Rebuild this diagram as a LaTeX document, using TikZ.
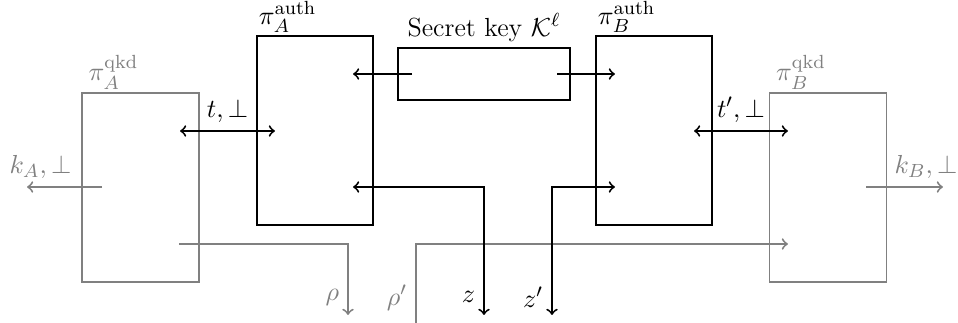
\documentclass[tikz,border=0pt]{standalone}
\usepackage{amsmath,amssymb}
\usepackage{tikz}
\usetikzlibrary{positioning}

\begin{document}
\begin{tikzpicture}[x=0.42pt, y=0.42pt,
every node/.style = {font=\fontsize{11}{13}\selectfont},
box/.style = {rectangle, thick, inner sep=0pt},
qkd/.style = {box, draw=gray, minimum width=117*0.42pt, minimum height=189*0.42pt},
auth/.style = {box, draw=black, minimum width=116*0.42pt, minimum height=189*0.42pt},
keybox/.style = {box, draw=black, minimum width=172*0.42pt, minimum height=52*0.42pt},
linkBlack/.style = {thick, draw=black},
linkGray/.style = {thick, draw=gray},
labelBlack/.style = {black},
labelGray/.style = {gray}]
\useasboundingbox (0,0) rectangle (958,323);

% boxes
\node[qkd, label={[labelGray, anchor=south west, inner sep=1pt, xshift=2pt]north west:$\pi_A^{\mathrm{qkd}}$}] (QA) at (140.5,135.5) {};
\node[auth, label={[labelBlack, anchor=south west, inner sep=1pt]north west:$\pi_A^{\mathrm{auth}}$}] (AA) at (315,192.5) {};
\node[keybox, label={[labelBlack, inner sep=2pt]above:Secret key $\mathcal{K}^\ell$}] (K) at (484,249) {};
\node[auth, label={[labelBlack, anchor=south west, inner sep=1pt]north west:$\pi_B^{\mathrm{auth}}$}] (AB) at (654,192.5) {};
\node[qkd, label={[labelGray, anchor=south west, inner sep=1pt, xshift=2pt]north west:$\pi_B^{\mathrm{qkd}}$}] (QB) at (828,135.5) {};

% end points
\coordinate (tA) at (180,192);   \coordinate (tAa) at (275,192);
\coordinate (tB) at (694,192);   \coordinate (tBq) at (788,192);
\coordinate (kA) at (102,136);   \coordinate (kAout) at (27,136);
\coordinate (kB) at (866,136);   \coordinate (kBout) at (943,136);
\coordinate (KL) at (412,249);   \coordinate (KLa) at (353,249);
\coordinate (KR) at (557,249);   \coordinate (KRb) at (615,249);
\coordinate (zA) at (353,136);   \coordinate (zOut) at (484,8);
\coordinate (zB) at (615,136);   \coordinate (zBOut) at (552,8);
\coordinate (rhoA) at (179,79);  \coordinate (rhoOut) at (348,8);
\coordinate (rhoIn) at (416,0);  \coordinate (rhoB) at (788,79);

% key distribution
\draw[linkGray, ->] (kA) to node[labelGray, above, pos=0.82] {$k_A,\bot$} (kAout);
\draw[linkGray, ->] (kB) to node[labelGray, above, pos=0.78] {$k_B,\bot$} (kBout);
\draw[linkGray, ->] (rhoA) -| node[labelGray, left, pos=0.875] {$\rho$} (rhoOut);
\draw[linkGray, ->] (rhoIn) |- node[labelGray, left, pos=0.16] {$\rho'$} (rhoB);

% authentication
\draw[linkBlack, <->] (tA) to node[labelBlack, above] {$t,\bot$} (tAa);
\draw[linkBlack, <->] (tB) to node[labelBlack, above] {$t',\bot$} (tBq);
\draw[linkBlack, ->] (KL) to (KLa);
\draw[linkBlack, ->] (KR) to (KRb);
\draw[linkBlack, <->] (zA) -| node[labelBlack, left, pos=0.93] {$z$} (zOut);
\draw[linkBlack, <->] (zBOut) |- node[labelBlack, left, pos=0.07] {$z'$} (zB);

\end{tikzpicture}
\end{document}
